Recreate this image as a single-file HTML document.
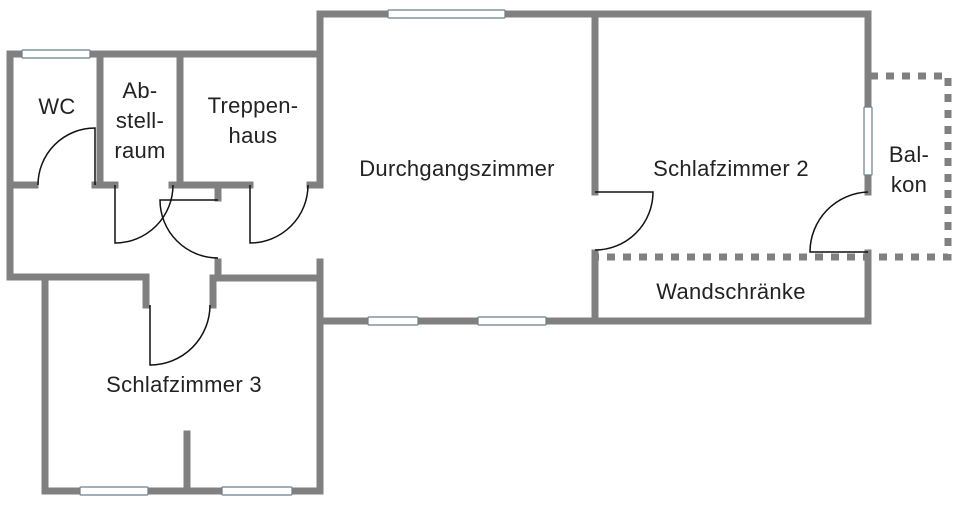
<!DOCTYPE html>
<html><head><meta charset="utf-8"><style>
html,body{margin:0;padding:0;background:#fff;}
svg{display:block;}
text{font-family:"Liberation Sans",sans-serif;font-size:22px;fill:#222;text-anchor:middle;letter-spacing:0.3px;}
</style></head><body>
<svg width="960" height="506" viewBox="0 0 960 506" xmlns="http://www.w3.org/2000/svg">
<g stroke="#808080" stroke-width="7" fill="none" stroke-linecap="square">
<line x1="10" y1="54" x2="320" y2="54"/>
<line x1="10" y1="54" x2="10" y2="277"/>
<line x1="100" y1="54" x2="100" y2="185"/>
<line x1="180" y1="54" x2="180" y2="185"/>
<line x1="320" y1="14" x2="320" y2="185"/>
<line x1="10" y1="185" x2="35" y2="185"/>
<line x1="95" y1="185" x2="115" y2="185"/>
<line x1="172" y1="185" x2="250" y2="185"/>
<line x1="310" y1="185" x2="320" y2="185"/>
<line x1="218" y1="185" x2="218" y2="198"/>
<line x1="218" y1="262" x2="218" y2="278"/>
<line x1="10" y1="277" x2="146" y2="277"/>
<line x1="146" y1="277" x2="146" y2="305"/>
<line x1="213" y1="278" x2="213" y2="305"/>
<line x1="213" y1="278" x2="320" y2="278"/>
<line x1="320" y1="262" x2="320" y2="491"/>
<line x1="45" y1="277" x2="45" y2="491"/>
<line x1="45" y1="491" x2="320" y2="491"/>
<line x1="187" y1="434" x2="187" y2="491"/>
<line x1="320" y1="14" x2="868" y2="14"/>
<line x1="320" y1="321" x2="868" y2="321"/>
<line x1="595" y1="14" x2="595" y2="192"/>
<line x1="595" y1="253" x2="595" y2="321"/>
<line x1="868" y1="14" x2="868" y2="192"/>
<line x1="868" y1="253" x2="868" y2="321"/>
</g>
<g stroke="#808080" stroke-width="7" fill="none" stroke-dasharray="8,8">
<polyline points="870,76 948,76 948,257 598,257"/>
</g>
<g fill="#fff" stroke="#6a7f8a" stroke-width="1.2">
<rect x="22" y="50" width="68" height="8" rx="1"/>
<rect x="388" y="10" width="117" height="8" rx="1"/>
<rect x="368" y="317" width="50" height="8" rx="1"/>
<rect x="478" y="317" width="68" height="8" rx="1"/>
<rect x="80" y="487" width="68" height="8" rx="1"/>
<rect x="222" y="487" width="70" height="8" rx="1"/>
<rect x="864" y="107" width="8" height="68" rx="1"/>
</g>
<g stroke="#111" stroke-width="1.5" fill="none">
<path d="M95,185 V128 A57,57 0 0 0 38,185"/>
<path d="M115,185 V243 A58,58 0 0 0 173,185"/>
<path d="M218,200 H160 A58,58 0 0 0 218,258"/>
<path d="M250,185 V243 A58,58 0 0 0 308,185"/>
<path d="M150,305 V365 A60,60 0 0 0 210,305"/>
<path d="M595,192 H653 A58,58 0 0 1 595,250"/>
<path d="M868,252 H810 A60,60 0 0 1 868,192"/>
</g>
<text x="57" y="114">WC</text>
<text x="140" y="98">Ab-</text>
<text x="140" y="128">stell-</text>
<text x="140" y="158">raum</text>
<text x="253" y="113">Treppen-</text>
<text x="253" y="143">haus</text>
<text x="457" y="176">Durchgangszimmer</text>
<text x="731" y="176">Schlafzimmer 2</text>
<text x="909" y="162">Bal-</text>
<text x="909" y="192">kon</text>
<text x="731" y="299">Wandschränke</text>
<text x="184" y="392">Schlafzimmer 3</text>
</svg>
</body></html>
